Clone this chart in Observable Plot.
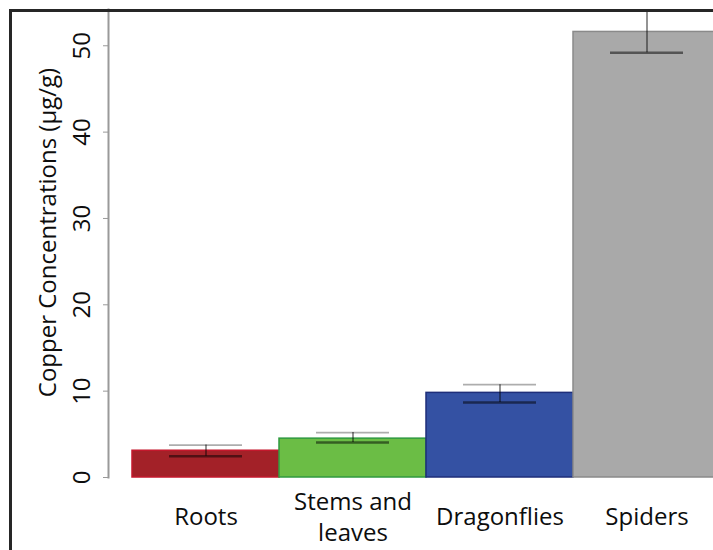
<!DOCTYPE html>
<html>
<head>
<meta charset="utf-8">
<script src="https://cdn.jsdelivr.net/npm/d3@7"></script>
<script src="https://cdn.jsdelivr.net/npm/@observablehq/plot@0.6"></script>
<style>
  html, body { margin: 0; padding: 0; background: #fff; overflow: hidden; }
  #wrap { position: relative; width: 713px; height: 550px; overflow: hidden; }
  #wrap svg { max-width: none !important; display: block; overflow: hidden; }
  #border { position: absolute; left: 9px; top: 9px; width: 900px; height: 800px;
            border-left: 3px solid #262626; border-top: 3px solid #262626; pointer-events: none; }
</style>
</head>
<body>
<div id="wrap"><div id="border"></div></div>
<script>
const categories = ["Roots", "Stems and\nleaves", "Dragonflies", "Spiders"];
const means = [3.1, 4.5, 9.8, 51.6];
const lower = [2.45, 4.05, 8.7, 49.2];
const upper = [3.75, 5.2, 10.75, 54.05];
const fills = ["#a32128", "#6bbd45", "#3451a3", "#a9a9a9"];
const edges = ["#c4182c", "#2f9a3f", "#1e2e7a", "#8a8a8a"];
const yTicks = [0, 10, 20, 30, 40, 50];
const yLabel = "Copper Concentrations (µg/g)";

const data = categories.map((c, i) => ({
  category: c, mean: means[i], lo: lower[i], hi: upper[i], fill: fills[i], edge: edges[i]
}));

const chart = Plot.plot({
  width: 713,
  height: 550,
  marginLeft: 108,
  marginRight: -31,
  marginTop: 9,
  marginBottom: 73,
  style: { fontFamily: "'Open Sans', sans-serif", background: "white", color: "#0d0d0d" },
  color: { type: "identity" },
  x: { domain: categories, paddingInner: 0, paddingOuter: 0.163 },
  y: { domain: [0, 54.2] },
  marks: [
    Plot.barY(data, { x: "category", y: "mean", fill: "fill", stroke: "edge", strokeWidth: 1.5, inset: 0 }),
    Plot.ruleX(data, { x: "category", y1: "lo", y2: "hi", stroke: "#000", strokeOpacity: 0.42, strokeWidth: 2 }),
    Plot.tickY(data, { x: "category", y: "lo", insetLeft: 37, insetRight: 37, stroke: "#000", strokeOpacity: 0.5, strokeWidth: 2.5 }),
    Plot.tickY(data, { x: "category", y: "hi", insetLeft: 37, insetRight: 37, stroke: "#000", strokeOpacity: 0.32, strokeWidth: 1.8 }),
    Plot.frame({ anchor: "left", stroke: "#9a9a9a", strokeWidth: 2 }),
    Plot.axisY({
      ticks: yTicks, tickSize: 5, tickRotate: -90, tickPadding: 14, fontSize: 24, fontWeight: 500,
      stroke: "#999", label: null
    }),
    Plot.text([yLabel], { frameAnchor: "left", textAnchor: "middle", lineAnchor: "middle", rotate: -90, dx: -60, dy: -11, fontSize: 24, fontWeight: 500, fill: "#0d0d0d" }),
    Plot.axisX({ tickSize: 0, tickPadding: 38, lineAnchor: "middle", fontSize: 24, fontWeight: 500, lineHeight: 1.3, label: null })
  ]
});
document.getElementById("wrap").prepend(chart);
</script>
</body>
</html>
